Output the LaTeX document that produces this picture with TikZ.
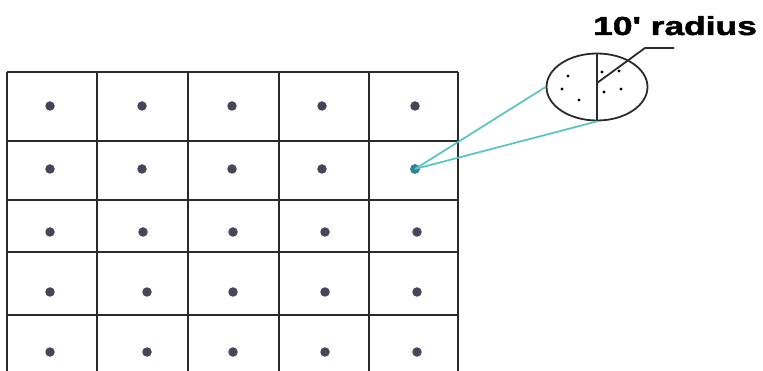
\documentclass[tikz,border=0pt]{standalone}
\usepackage{fontspec}
\setmainfont{Liberation Sans}
\newfontfamily\labelfont[Ligatures=TeXOff, FakeBold=1.6]{Liberation Sans Bold}
\usetikzlibrary{shapes.geometric}
\definecolor{gridline}{HTML}{2B2B2B}
\definecolor{plotdot}{HTML}{4B4458}
\definecolor{leadcyan}{HTML}{55C4C4}
\definecolor{pickdot}{HTML}{2F8597}
\tikzset{
  plot/.style={circle, fill=plotdot, inner sep=0pt, minimum size=9.5pt},
  subdot/.style={circle, fill=black, inner sep=0pt, minimum size=3.2pt},
  zoomline/.style={draw=leadcyan, line width=1.7pt}
}
\begin{document}
\begin{tikzpicture}[x=1pt, y=-1pt]
    \useasboundingbox (0,0) rectangle (763,371);
    \fill[white] (0,0) rectangle (763,371);

    % Grid of plots (bottom row runs off the picture)
    \foreach \gx in {7,97,188,279,369,458}
      \draw[gridline, line width=2pt] (\gx,72) -- (\gx,371);
    \foreach \gy in {72,141,200,252,315}
      \draw[gridline, line width=2pt] (7,\gy) -- (458,\gy);

    % Plot centres, one per cell
    \foreach \r/\py/\xa/\xb/\xc/\xd/\xe in {1/106/50/142/232/322/415, 2/169/50/142/232/322/415, 3/232/50/143/233/325/417, 4/292/50/147/233/325/417, 5/352/50/147/233/325/417}{
      \node[plot] (d-\r-1) at (\xa,\py) {};
      \node[plot] (d-\r-2) at (\xb,\py) {};
      \node[plot] (d-\r-3) at (\xc,\py) {};
      \node[plot] (d-\r-4) at (\xd,\py) {};
      \node[plot] (d-\r-5) at (\xe,\py) {};
    }
    % Picked plot
    \node[plot, fill=pickdot] (pick) at (d-2-5) {};

    % Enlarged plot (ellipse)
    \node[draw=gridline, line width=1.8pt, ellipse, inner sep=0pt, minimum width=101pt, minimum height=67pt] (sample) at (597,87) {};
    \draw[gridline, line width=1.8pt] (sample.north) -- (sample.south);

    % Sample points inside the plot
    \node[subdot] (s1) at (568,76) {};
    \node[subdot] (s2) at (562,89) {};
    \node[subdot] (s3) at (579,100) {};
    \node[subdot] (s4) at (602,72) {};
    \node[subdot] (s5) at (619,71) {};
    \node[subdot] (s6) at (604,92) {};
    \node[subdot] (s7) at (621,89) {};

    % Zoom lines from the picked plot
    \draw[zoomline] (pick.center) -- (sample.west);
    \draw[zoomline] (pick.center) -- (sample.south);

    % Radius label and its leader
    \node[anchor=base west, inner sep=0pt, font=\labelfont\fontsize{26}{26}\selectfont] (radlabel) at (593,35) {\scalebox{1.36}[1]{10' radius}};
    \coordinate (bend) at (645,48);
    \coordinate (leadend) at (674,48);
    \draw[gridline, line width=1.8pt] ([yshift=4pt]sample.center) -- (bend) -- (leadend);
\end{tikzpicture}
\end{document}
